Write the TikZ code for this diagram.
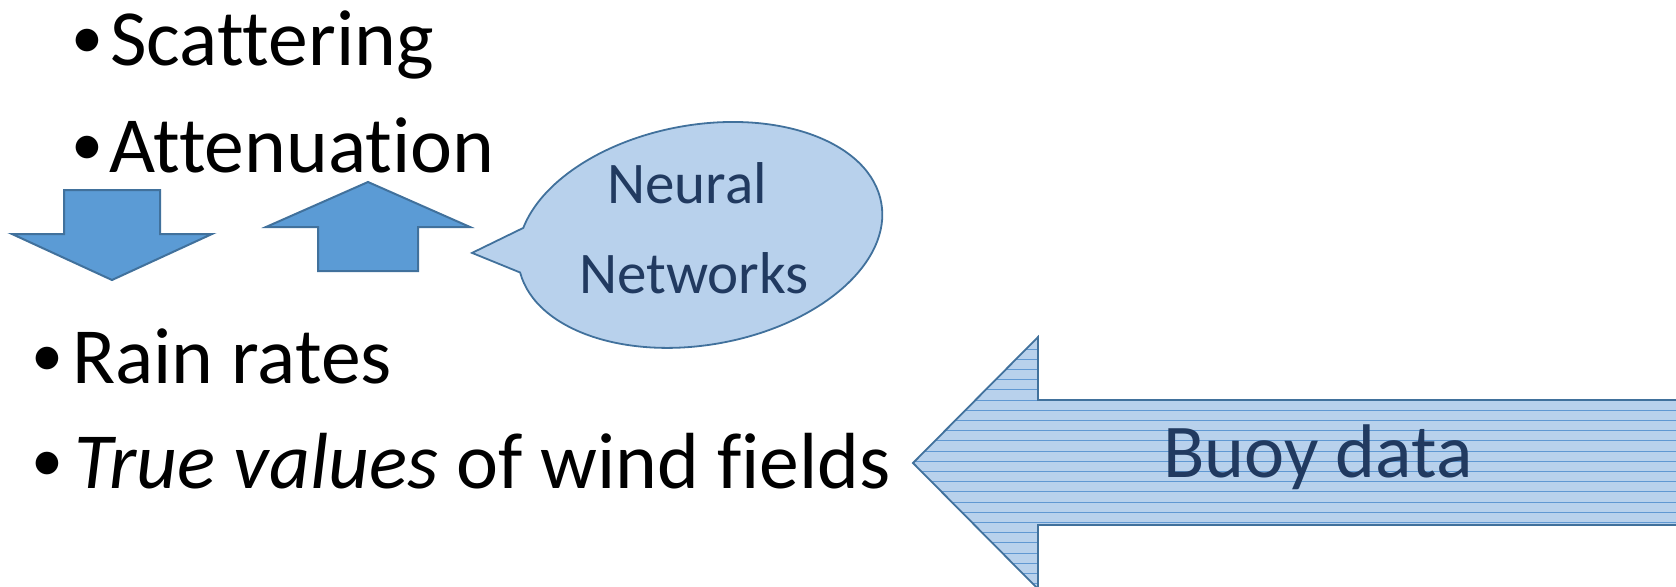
\documentclass[tikz,border=0pt]{standalone}
\usepackage{fontspec}
\setmainfont[Ligatures={NoCommon}]{Carlito}
\usetikzlibrary{calc}
\definecolor{arrowfill}{RGB}{91,155,213}
\definecolor{arrowline}{RGB}{65,113,156}
\definecolor{lightfill}{RGB}{184,209,236}
\definecolor{stripe}{RGB}{96,152,210}
\definecolor{darktext}{RGB}{33,58,96}
\begin{document}
\begin{tikzpicture}[x=0.5pt,y=0.5pt,
  bigtext/.style={font=\fontsize{39.8pt}{46pt}\selectfont, inner sep=0pt, anchor=base west},
  bul/.style={font=\fontsize{32pt}{40pt}\selectfont, inner sep=0pt, anchor=base},
  blockarrow/.style={fill=arrowfill, draw=arrowline, line width=1pt, line join=miter},
  lightshape/.style={fill=lightfill, draw=arrowline, line width=0.9pt, line join=miter},
  calltext/.style={font=\fontsize{29.5pt}{35pt}\selectfont, text=darktext, inner sep=0pt, anchor=base},
  buoytext/.style={font=\fontsize{38pt}{46pt}\selectfont, text=darktext, inner sep=0pt, anchor=base}]
\useasboundingbox (0,0) rectangle (1676,586);

% bullet texts
\node[bul] (b1) at (87,528) {•};
\node[bigtext] (t1) at (110,521) {Scattering};
\node[bul] (b2) at (87,421) {•};
\node[bigtext] (t2) at (109,414) {Attenuation};
\node[bul] (b3) at (47,210) {•};
\node[bigtext] (t3) at (72,203) {Rain rates};
\node[bul] (b4) at (47,105) {•};
\node[bigtext] (t4) at (74,98) {\textit{True values} of wind fields};

% down arrow
\draw[blockarrow] (64,396) -- (160,396) -- (160,352) -- (212,352) -- (112,306) -- (12,352) -- (64,352) -- cycle;
% up arrow
\draw[blockarrow] (368,404) -- (470,359) -- (418,359) -- (418,315) -- (318,315) -- (318,359) -- (266,359) -- cycle;

% callout
\coordinate (cc) at (700,351);
\begin{scope}[rotate around={10:(cc)}]
  \draw[lightshape] ($(cc)+(183:184 and 110)$) arc[start angle=183, end angle=520, x radius=184, y radius=110]
    -- ($(cc)+(-227.7,21.9)$) -- cycle;
\end{scope}
\node[calltext] (nn1) at (687,383) {Neural};
\node[calltext] (nn2) at (694,293) {Networks};

% big arrow
\path[fill=lightfill] (913,123) -- (1038,249) -- (1038,186) -- (1690,186) -- (1690,61) -- (1038,61) -- (1038,-3) -- cycle;
\begin{scope}
  \clip (913,123) -- (1038,249) -- (1038,186) -- (1690,186) -- (1690,61) -- (1038,61) -- (1038,-3) -- cycle;
  \foreach \k in {-13,...,13} {
    \draw[stripe, line width=0.55pt] (900,124.7-\k*10.2) -- (1690,124.7-\k*10.2);
  }
\end{scope}
\draw[arrowline, line width=0.9pt, line join=miter] (913,123) -- (1038,249) -- (1038,186) -- (1690,186) -- (1690,61) -- (1038,61) -- (1038,-3) -- cycle;
\node[buoytext] (buoy) at (1318,109) {Buoy data};
\end{tikzpicture}
\end{document}
